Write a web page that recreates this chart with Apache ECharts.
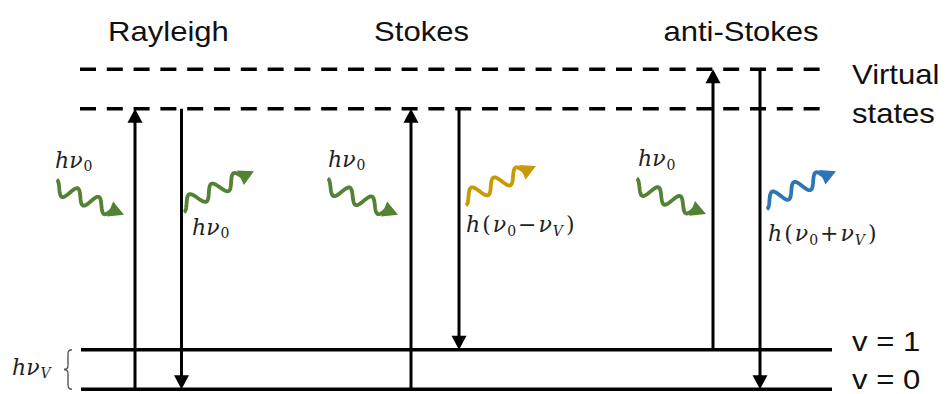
<!DOCTYPE html>
<html>
<head>
<meta charset="utf-8">
<script src="https://cdn.jsdelivr.net/npm/echarts@6.0.0/dist/echarts.min.js"></script>
<style>
html,body{margin:0;padding:0;background:#ffffff;}
#chart{width:946px;height:394px;}
</style>
</head>
<body>
<div id="chart"></div>
<script>
// ---- data: x = horizontal diagram position, y = energy in units of hν_V ----
const processes = ['Rayleigh', 'Stokes', 'anti-Stokes'];
const processTitleX = [168.5, 421.5, 741];
const processTitleE = [9.04, 9.04, 9.04];

const levelNames = ['v = 0', 'v = 1', 'virtual state (lower)', 'virtual state (upper)'];
const levelEnergy = [0, 1, 7.1, 8.1];
const levelXStart = [81, 81, 80, 80];
const levelXEnd = [832, 832, 820, 820];

const sideLabels = ['Virtual', 'states', 'v = 1', 'v = 0'];
const sideLabelX = [852, 852, 852, 852];
const sideLabelE = [7.96, 6.97, 1.20, 0.24];

// vertical transitions (absorption up, emission down)
const upX = [135, 411, 713];
const upFromE = [0, 0, 1];
const upToE = [7.1, 7.1, 8.1];
const downX = [181.5, 459, 760];
const downFromE = [7.1, 7.1, 8.1];
const downToE = [0, 1, 0];

// photons
const photonStartX = [54, 181, 325, 463, 634, 764];
const photonStartE = [5.14, 4.64, 5.17, 4.82, 5.17, 4.72];
const photonEndX = [124, 254, 398, 536, 706, 836];
const photonEndE = [4.42, 5.52, 4.42, 5.65, 4.44, 5.52];
const photonKind = [0, 0, 0, 1, 0, 2]; // 0: ν0, 1: Stokes, 2: anti-Stokes
const photonLabels = ['hν0', 'hν0', 'hν0', 'h(ν0−νV)', 'hν0', 'h(ν0+νV)'];
const photonLabelX = [55, 192, 328, 466, 638, 768];
const photonLabelE = [5.80, 4.10, 5.82, 4.17, 5.84, 3.94];

const gapLabel = 'hνV';
const gapLabelX = [12];
const gapLabelE = [0.56];
const braceX = [68];
const braceFromE = [1];
const braceToE = [0];

// ---- styles ----
const photonColors = ['#548235', '#C99A06', '#2E75B6'];
const SANS = '"Liberation Sans", Arial, sans-serif';
const SERIF = '"DejaVu Serif", serif';
const sansScaleX = 1.15;
const mathRich = {
  i: {fontFamily: SERIF, fontStyle: 'italic', fontSize: 22, lineHeight: 28, fill: '#222'},
  r: {fontFamily: SERIF, fontSize: 22, lineHeight: 28, padding: [0, 2, 0, 2], fill: '#222'},
  s: {fontFamily: SERIF, fontSize: 14, lineHeight: 14, padding: [12, 0, 0, 1], fill: '#222'},
  sv: {fontFamily: SERIF, fontStyle: 'italic', fontSize: 14, lineHeight: 14, padding: [12, 1, 0, 1], fill: '#222'}
};
function toRich(str) {
  let out = '', cur = null, buf = '';
  for (let k = 0; k < str.length; k++) {
    const c = str[k], prev = str[k - 1];
    let st;
    if (c === '0') st = 's';
    else if (c === 'V' && prev === 'ν') st = 'sv';
    else if ('()−+'.indexOf(c) >= 0) st = 'r';
    else st = 'i';
    if (st !== cur) { if (cur) out += '{' + cur + '|' + buf + '}'; cur = st; buf = ''; }
    buf += c;
  }
  if (cur) out += '{' + cur + '|' + buf + '}';
  return out;
}

// ---- renderers ----
function renderArrow(params, api) {
  const a = api.coord([api.value(0), api.value(1)]);
  const b = api.coord([api.value(0), api.value(2)]);
  const dir = b[1] > a[1] ? 1 : -1;
  const headLen = 14, halfW = 7.5;
  const baseY = b[1] - dir * headLen;
  return {type: 'group', children: [
    {type: 'line', shape: {x1: a[0], y1: a[1], x2: b[0], y2: baseY + dir * 2}, style: {stroke: '#000', lineWidth: 3}},
    {type: 'polygon', shape: {points: [[b[0], b[1]], [b[0] - halfW, baseY], [b[0] + halfW, baseY]]}, style: {fill: '#000'}}
  ]};
}
function renderPhoton(params, api) {
  const a = api.coord([api.value(0), api.value(1)]);
  const b = api.coord([api.value(2), api.value(3)]);
  const color = photonColors[api.value(4)];
  const goingUp = b[1] < a[1];
  const dx = b[0] - a[0], dy = b[1] - a[1], L = Math.hypot(dx, dy);
  const ux = dx / L, uy = dy / L, nx = -uy, ny = ux;
  const head = 15, hw = 8;
  const wl = L - head + 2;
  const periods = 2.75, amp = 7, sgn = goingUp ? 1 : -1;
  const pts = [];
  const N = 90;
  for (let i = 0; i <= N; i++) {
    const t = i / N, s = wl * t, o = sgn * amp * Math.cos(2 * Math.PI * periods * t);
    pts.push([a[0] + ux * s + nx * o, a[1] + uy * s + ny * o]);
  }
  const bx = b[0] - ux * head, by = b[1] - uy * head;
  return {type: 'group', children: [
    {type: 'polyline', shape: {points: pts}, style: {stroke: color, lineWidth: 3.8, fill: null, lineJoin: 'round'}},
    {type: 'polygon', shape: {points: [[b[0], b[1]], [bx + nx * hw, by + ny * hw], [bx - nx * hw, by - ny * hw]]}, style: {fill: color}}
  ]};
}
function makeTextRenderer(texts, opts) {
  return function (params, api) {
    const p = api.coord([api.value(0), api.value(1)]);
    const style = {text: texts[params.dataIndex], align: opts.align, verticalAlign: 'middle', fill: opts.fill || '#111'};
    if (opts.rich) { style.rich = opts.rich; }
    else { style.fontFamily = SANS; style.fontSize = opts.fontSize; }
    return {type: 'text', x: p[0], y: p[1], scaleX: opts.scaleX || 1, style: style};
  };
}
function renderBrace(params, api) {
  const top = api.coord([api.value(0), api.value(1)]);
  const bot = api.coord([api.value(0), api.value(2)]);
  const x = top[0], y0 = top[1], y1 = bot[1], m = (y0 + y1) / 2;
  const st = {stroke: '#555', lineWidth: 1.4, fill: null};
  return {type: 'group', children: [
    {type: 'bezierCurve', shape: {x1: x + 4, y1: y0, cpx1: x, cpy1: y0, x2: x, y2: y0 + 4}, style: st},
    {type: 'line', shape: {x1: x, y1: y0 + 4, x2: x, y2: m - 4}, style: st},
    {type: 'bezierCurve', shape: {x1: x, y1: m - 4, cpx1: x, cpy1: m, x2: x - 4, y2: m}, style: st},
    {type: 'bezierCurve', shape: {x1: x - 4, y1: m, cpx1: x, cpy1: m, x2: x, y2: m + 4}, style: st},
    {type: 'line', shape: {x1: x, y1: m + 4, x2: x, y2: y1 - 4}, style: st},
    {type: 'bezierCurve', shape: {x1: x, y1: y1 - 4, cpx1: x, cpy1: y1, x2: x + 4, y2: y1}, style: st}
  ]};
}

// ---- build series ----
const series = [];
levelEnergy.forEach(function (e, k) {
  series.push({
    type: 'line', name: levelNames[k], symbol: 'none', silent: true, animation: false,
    data: [[levelXStart[k], e], [levelXEnd[k], e]],
    lineStyle: {color: '#000', width: k >= 2 ? 3.6 : 3.4, type: k >= 2 ? [16, 10.8] : 'solid', cap: 'butt'}
  });
});
series.push({type: 'custom', name: 'excitation', coordinateSystem: 'cartesian2d', clip: false, silent: true, animation: false,
  renderItem: renderArrow, data: upX.map(function (x, k) { return [x, upFromE[k], upToE[k]]; })});
series.push({type: 'custom', name: 'emission', coordinateSystem: 'cartesian2d', clip: false, silent: true, animation: false,
  renderItem: renderArrow, data: downX.map(function (x, k) { return [x, downFromE[k], downToE[k]]; })});
series.push({type: 'custom', name: 'photons', coordinateSystem: 'cartesian2d', clip: false, silent: true, animation: false,
  renderItem: renderPhoton,
  data: photonStartX.map(function (x, k) { return [x, photonStartE[k], photonEndX[k], photonEndE[k], photonKind[k]]; })});
series.push({type: 'custom', name: 'titles', coordinateSystem: 'cartesian2d', clip: false, silent: true, animation: false,
  renderItem: makeTextRenderer(processes, {align: 'center', fontSize: 27, scaleX: sansScaleX}),
  data: processTitleX.map(function (x, k) { return [x, processTitleE[k]]; })});
series.push({type: 'custom', name: 'side labels', coordinateSystem: 'cartesian2d', clip: false, silent: true, animation: false,
  renderItem: makeTextRenderer(sideLabels, {align: 'left', fontSize: 27, scaleX: sansScaleX}),
  data: sideLabelX.map(function (x, k) { return [x, sideLabelE[k]]; })});
const photonRich = photonLabels.map(toRich);
series.push({type: 'custom', name: 'photon labels', coordinateSystem: 'cartesian2d', clip: false, silent: true, animation: false,
  renderItem: makeTextRenderer(photonRich, {align: 'left', rich: mathRich}),
  data: photonLabelX.map(function (x, k) { return [x, photonLabelE[k]]; })});
series.push({type: 'custom', name: 'gap label', coordinateSystem: 'cartesian2d', clip: false, silent: true, animation: false,
  renderItem: makeTextRenderer([toRich(gapLabel)], {align: 'left', rich: mathRich}),
  data: gapLabelX.map(function (x, k) { return [x, gapLabelE[k]]; })});
series.push({type: 'custom', name: 'brace', coordinateSystem: 'cartesian2d', clip: false, silent: true, animation: false,
  renderItem: renderBrace, data: braceX.map(function (x, k) { return [x, braceFromE[k], braceToE[k]]; })});

const chart = echarts.init(document.getElementById('chart'), null, {renderer: 'svg'});
chart.setOption({
  backgroundColor: '#ffffff',
  animation: false,
  grid: {left: 0, right: 0, top: 0, bottom: 0},
  xAxis: {type: 'value', min: 0, max: 946, show: false},
  yAxis: {type: 'value', min: -0.12, max: 9.855, show: false},
  series: series
});
</script>
</body>
</html>
